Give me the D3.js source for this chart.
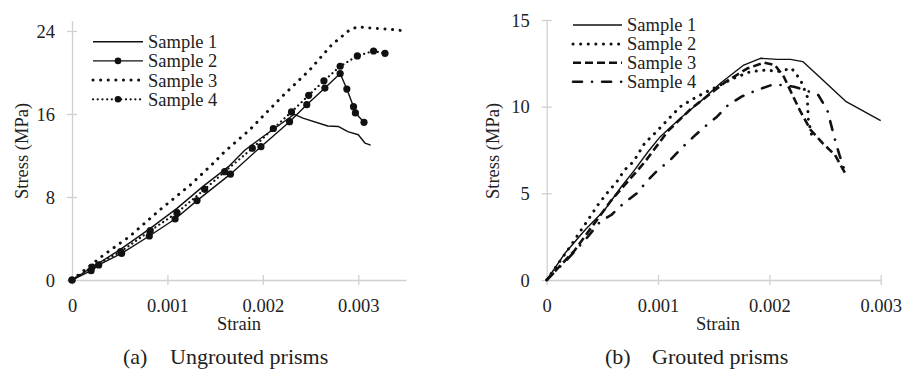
<!DOCTYPE html>
<html>
<head>
<meta charset="utf-8">
<script src="https://cdn.jsdelivr.net/npm/d3@7"></script>
<style>
  html, body { margin: 0; padding: 0; background: #fff; }
  svg text { font-family: "Liberation Serif", "Tinos", "Times New Roman", "DejaVu Serif", serif !important; }
  .axis path, .axis line { stroke: #d0d0d0; stroke-width: 1.3; }
</style>
</head>
<body>
<svg id="chart" width="914" height="371"></svg>
<script>
// ---- data: [strain, stress (MPa)] ----
const legendLabels = ['Sample 1', 'Sample 2', 'Sample 3', 'Sample 4'];

const ungroutedS1 = [[0,0],[0.0005,2.9],[0.00082,4.98],[0.0011,6.9],[0.00137,9.0],[0.00165,11.0],[0.00181,12.5],[0.002,13.8],[0.00233,15.97],[0.00242,15.6],[0.00268,14.84],[0.00279,14.8],[0.00289,14.3],[0.003,14.0],[0.00307,13.2],[0.00313,13.0]];
const ungroutedS2 = [[0,0],[0.0002,0.9],[0.00028,1.45],[0.00052,2.57],[0.00081,4.24],[0.00108,5.88],[0.00131,7.65],[0.00166,10.2],[0.00198,12.85],[0.00228,15.26],[0.00246,16.9],[0.00265,18.5],[0.00281,19.9],[0.00288,18.4],[0.00295,16.7],[0.00297,16.1],[0.00306,15.2]];
const ungroutedS3 = [[0,0],[0.00033,2.4],[0.00061,4.24],[0.00092,6.75],[0.00124,9.16],[0.00148,11.25],[0.0016,12.37],[0.00186,14.46],[0.0022,17.67],[0.00249,20.24],[0.00272,22.65],[0.00291,24.1],[0.00299,24.4],[0.00316,24.26],[0.00333,24.16],[0.0035,24.0]];
const ungroutedS4 = [[0,0],[0.00021,1.25],[0.00051,2.73],[0.00082,4.75],[0.0011,6.49],[0.00139,8.74],[0.0016,10.44],[0.00189,12.7],[0.00211,14.6],[0.0023,16.2],[0.00248,17.8],[0.00264,19.2],[0.00281,20.6],[0.00299,21.6],[0.00316,22.07],[0.00328,21.85]];

const groutedS1 = [[0,0],[0.000164,1.54],[0.000344,2.88],[0.00052,4.04],[0.00067,5.38],[0.00079,6.35],[0.00091,7.4],[0.00102,8.27],[0.0012,9.33],[0.00138,10.29],[0.00156,11.35],[0.00177,12.4],[0.00192,12.79],[0.00207,12.73],[0.00219,12.73],[0.0023,12.6],[0.00248,11.54],[0.00269,10.29],[0.003,9.2]];
const groutedS2 = [[0,0],[0.00021,1.92],[0.0003,2.79],[0.00037,3.46],[0.00046,4.33],[0.00054,5.0],[0.00063,5.67],[0.0007,6.35],[0.00078,6.83],[0.00088,7.89],[0.00097,8.46],[0.0012,10.0],[0.00135,10.58],[0.0015,11.06],[0.00168,11.64],[0.00183,12.02],[0.00198,12.12],[0.00207,12.02],[0.0022,12.21],[0.00228,11.54],[0.00234,10.58],[0.00235,9.23],[0.00238,8.37]];
const groutedS3 = [[0,0],[0.00025,1.7],[0.00058,4.6],[0.00088,6.8],[0.00109,8.6],[0.0013,9.9],[0.0016,11.4],[0.0018,12.2],[0.00195,12.54],[0.00205,12.4],[0.00213,11.73],[0.0022,10.77],[0.00228,9.71],[0.00237,8.66],[0.00248,7.88],[0.00259,7.21],[0.00269,6.06]];
const groutedS4 = [[0,0],[0.00018,1.15],[0.00037,2.5],[0.00048,3.37],[0.00058,3.75],[0.00069,4.42],[0.00081,5.0],[0.00091,5.77],[0.001,6.35],[0.00111,6.92],[0.00121,7.6],[0.00132,8.27],[0.00142,8.85],[0.00153,9.42],[0.00163,10.1],[0.00175,10.58],[0.00189,10.96],[0.00202,11.25],[0.0021,11.25],[0.00222,11.15],[0.00232,10.96],[0.00244,10.67],[0.00252,9.8],[0.00259,8.08],[0.00263,7.2],[0.00269,6.06]];

const strainTicks = [0, 0.001, 0.002, 0.003];
const ungroutedStressTicks = [0, 8, 16, 24];
const groutedStressTicks = [0, 5, 10, 15];

// line styles
const solid = { dash: null, width: 1.4, cap: 'butt' };
const bigDots = { dash: '0.1 7.5', width: 3, cap: 'round' };
const smallDots = { dash: '0.1 4.6', width: 2.2, cap: 'round' };
const dashed = { dash: '8 4', width: 2.6, cap: 'butt' };
const dashDot = { dash: '9 10 0.1 10', width: 2.6, cap: 'round' };

const svg = d3.select('#chart');

function drawChart(opts) {
  const x = d3.scaleLinear().domain(opts.xDomain).range(opts.xRange);
  const y = d3.scaleLinear().domain(opts.yDomain).range([280, opts.yTop]);
  const g = svg.append('g');

  // x axis
  const xAxis = g.append('g').attr('class', 'axis')
    .attr('transform', 'translate(0,' + y(0) + ')')
    .call(d3.axisBottom(x).tickValues(strainTicks).tickSizeOuter(0)
      .tickFormat(d => d === 0 ? '0' : d3.format('.3f')(d)));
  xAxis.selectAll('.tick line').attr('y1', -5).attr('y2', 5);
  xAxis.selectAll('.tick text')
    .attr('y', 31.7).attr('dy', 0)
    .attr('font-size', 18.5).attr('fill', '#222');

  // y axis
  const yAxis = g.append('g').attr('class', 'axis')
    .attr('transform', 'translate(' + x(0) + ',0)')
    .call(d3.axisLeft(y).tickValues(opts.yTicks).tickSizeOuter(0));
  yAxis.selectAll('.tick line').attr('x1', -5).attr('x2', 5);
  yAxis.selectAll('.tick text')
    .attr('x', -17).attr('dy', '0.34em')
    .attr('font-size', 18.5).attr('fill', '#222');
  g.selectAll('.axis').attr('font-size', 18.5);

  // axis titles
  g.append('text').attr('x', opts.strainX).attr('y', 330)
    .attr('text-anchor', 'middle').attr('font-size', 18.5).attr('fill', '#222').text('Strain');
  g.append('text')
    .attr('transform', 'translate(' + opts.stressX + ',151) rotate(-90)')
    .attr('text-anchor', 'middle').attr('font-size', 18.5).attr('fill', '#222').text('Stress (MPa)');

  // series
  const line = d3.line().x(d => x(d[0])).y(d => y(d[1]));
  opts.series.forEach(s => {
    g.append('path').datum(s.data)
      .attr('d', line)
      .attr('fill', 'none')
      .attr('stroke', '#111')
      .attr('stroke-width', s.style.width)
      .attr('stroke-linecap', s.style.cap)
      .attr('stroke-linejoin', 'round')
      .attr('stroke-dasharray', s.style.dash);
    if (s.markers) {
      g.selectAll(null).data(s.data).enter().append('circle')
        .attr('cx', d => x(d[0])).attr('cy', d => y(d[1]))
        .attr('r', 3.6).attr('fill', '#111');
    }
  });

  // legend
  const leg = g.append('g');
  opts.series.forEach((s, i) => {
    const ly = opts.legendY + i * opts.legendStep;
    leg.append('line')
      .attr('x1', opts.legendX).attr('x2', opts.legendX + opts.legendLen)
      .attr('y1', ly).attr('y2', ly)
      .attr('stroke', '#111')
      .attr('stroke-width', s.style.width)
      .attr('stroke-linecap', s.style.cap)
      .attr('stroke-dasharray', s.style.dash);
    if (s.markers) {
      leg.append('circle').attr('cx', opts.legendX + opts.legendLen / 2).attr('cy', ly)
        .attr('r', 3.3).attr('fill', '#111');
    }
    leg.append('text')
      .attr('x', opts.legendX + opts.legendLen + 5).attr('y', ly + 6.4)
      .attr('font-size', 18.5).attr('fill', '#222').text(legendLabels[i]);
  });

  // caption
  g.append('text').attr('x', opts.captionX).attr('y', 364)
    .attr('font-size', 22).attr('fill', '#222').text(opts.captionTag);
  g.append('text').attr('x', opts.captionX + 47).attr('y', 364)
    .attr('font-size', 22).attr('fill', '#222').text(opts.caption);
}

drawChart({
  xDomain: [0, 0.0035], xRange: [72, 406],
  yDomain: [0, 25], yTop: 20.6, yTicks: ungroutedStressTicks,
  strainX: 239, stressX: 28,
  legendX: 93, legendY: 41.7, legendStep: 19.2, legendLen: 50,
  captionX: 123, captionTag: '(a)', caption: 'Ungrouted prisms',
  series: [
    { data: ungroutedS1, style: solid },
    { data: ungroutedS2, style: solid, markers: true },
    { data: ungroutedS3, style: bigDots },
    { data: ungroutedS4, style: smallDots, markers: true }
  ]
});

drawChart({
  xDomain: [0, 0.003], xRange: [546.7, 880.7],
  yDomain: [0, 15], yTop: 20, yTicks: groutedStressTicks,
  strainX: 718, stressX: 499,
  legendX: 573, legendY: 25, legendStep: 18.9, legendLen: 49,
  captionX: 605, captionTag: '(b)', caption: 'Grouted prisms',
  series: [
    { data: groutedS1, style: solid },
    { data: groutedS2, style: bigDots },
    { data: groutedS3, style: dashed },
    { data: groutedS4, style: dashDot }
  ]
});
</script>
</body>
</html>
